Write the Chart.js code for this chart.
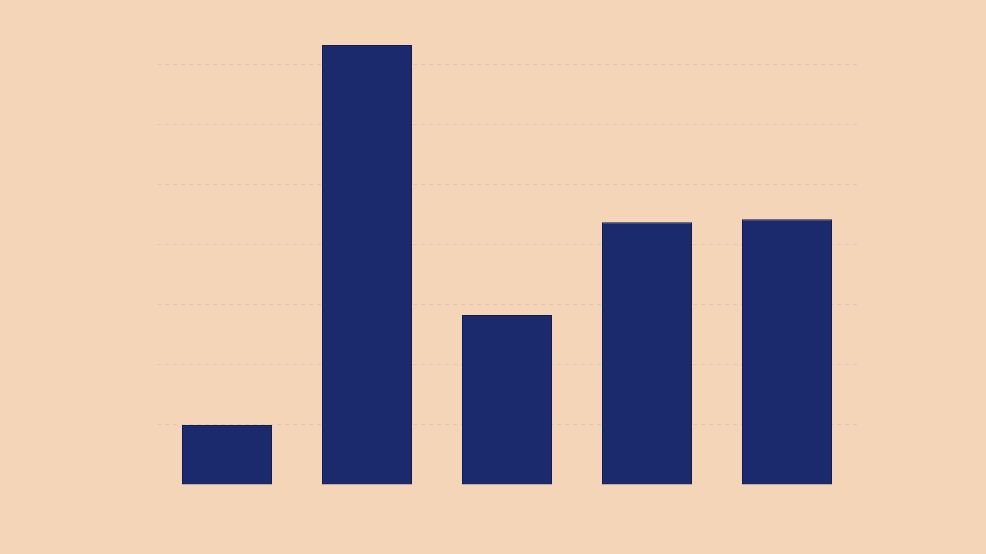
<!DOCTYPE html>
<html>
<head>
<meta charset="utf-8">
<script src="https://cdn.jsdelivr.net/npm/chart.js@4"></script>
<style>
  html, body { margin: 0; padding: 0; background: #f5d5b8; }
  #wrap { width: 986px; height: 554px; }
</style>
</head>
<body>
<div id="wrap"><canvas id="myChart"></canvas></div>
<script>
const categories = ['A', 'B', 'C', 'D', 'E'];
const values = [1.0, 7.32, 2.83, 4.37, 4.42];
const yMax = 7.32;

const ctx = document.getElementById('myChart');

new Chart(ctx, {
  type: 'bar',
  data: {
    labels: categories,
    datasets: [{
      data: values,
      backgroundColor: '#1a2a6c',
      borderColor: '#0f1d58',
      borderWidth: 1,
      categoryPercentage: 1,
      barPercentage: 0.643,
    }]
  },
  options: {
    responsive: true,
    maintainAspectRatio: false,
    animation: false,
    layout: {
      padding: {left: 157, right: 129, top: 45, bottom: 69}
    },
    plugins: {
      legend: {display: false},
      tooltip: {enabled: false},
    },
    scales: {
      x: {
        display: false,
      },
      y: {
        min: 0,
        max: yMax,
        ticks: {display: false, stepSize: 1},
        border: {display: false, dash: [4, 4]},
        grid: {
          drawTicks: false,
          color: c => (c.tick && Number.isInteger(c.tick.value) && c.tick.value > 0)
            ? 'rgba(225, 200, 180, 0.9)' : 'rgba(0,0,0,0)',
          lineWidth: 1,
        },
      }
    }
  }
});
</script>
</body>
</html>
